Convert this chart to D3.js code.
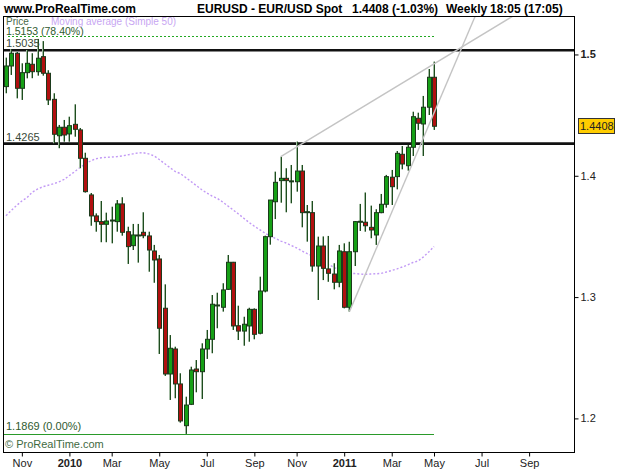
<!DOCTYPE html>
<html>
<head>
  <meta charset="utf-8">
  <title>EURUSD weekly</title>
  <script src="https://cdnjs.cloudflare.com/ajax/libs/d3/7.8.5/d3.min.js"></script>
  <style>
    body { margin: 0; background: #fff; }
    svg text { font-family: "Liberation Sans", Arial, sans-serif; }
    .hdr { font-size: 12px; font-weight: bold; fill: #000; }
    .axis text { font-size: 11px; fill: #222; }
    .axis line { stroke: #000; }
    .axis path { display: none; }
  </style>
</head>
<body>
<div id="chart"></div>
<script>

// weekly candles, first bar = week of 12 Oct 2009
var firstWeek = new Date(2009, 9, 12);

var opens = [
1.4735,1.4905,1.5010,1.4721,1.4850,1.4919,1.4858,1.4982,1.4845,1.4630,
1.4330,1.4400,1.4345,1.4424,1.4378,1.4144,1.3842,1.3669,1.3622,1.3600,
1.3627,1.3622,1.3768,1.3539,1.3424,1.3512,1.3534,1.3504,1.3380,1.3314,
1.2908,1.2366,1.2572,1.2284,1.1940,1.2116,1.2407,1.2385,1.2572,1.2652,
1.2935,1.2916,1.3064,1.3287,1.2764,1.2720,1.2762,1.2899,1.2702,1.3050,
1.3498,1.3786,1.3960,1.3979,1.3955,1.3951,1.4039,1.3700,1.3696,1.3256,
1.3421,1.3232,1.3190,1.3122,1.3374,1.2916,1.3374,1.3620,1.3617,1.3575,
1.3512,1.3696,1.3765,1.3988,1.3993,1.4177,1.4083,1.4235,1.4474,1.4427,
1.4565,1.4812];

var highs = [
1.4974,1.5043,1.5020,1.4927,1.5037,1.5010,1.5128,1.5110,1.4870,1.4680,
1.4419,1.4460,1.4487,1.4589,1.4394,1.4190,1.3858,1.3690,1.3792,1.3696,
1.3745,1.3800,1.3823,1.3580,1.3603,1.3603,1.3699,1.3539,1.3430,1.3347,
1.3105,1.2687,1.2591,1.2372,1.2179,1.2426,1.2481,1.2619,1.2729,1.3017,
1.3036,1.3114,1.3347,1.3290,1.2929,1.2838,1.2912,1.2907,1.3168,1.3506,
1.3800,1.4034,1.4157,1.4062,1.4089,1.4282,1.4089,1.3759,1.3792,1.3498,
1.3500,1.3504,1.3279,1.3430,1.3443,1.3456,1.3627,1.3768,1.3862,1.3754,
1.3724,1.3850,1.4007,1.4048,1.4204,1.4245,1.4254,1.4528,1.4520,1.4658,
1.4880,1.4941];

var lows = [
1.4680,1.4831,1.4638,1.4625,1.4803,1.4804,1.4825,1.4825,1.4583,1.4268,
1.4227,1.4281,1.4281,1.4322,1.4062,1.3861,1.3588,1.3539,1.3452,1.3452,
1.3443,1.3539,1.3506,1.3273,1.3388,1.3284,1.3485,1.3209,1.3118,1.2531,
1.2350,1.2152,1.2166,1.1965,1.1872,1.2110,1.2215,1.2160,1.2490,1.2537,
1.2743,1.2880,1.3059,1.2729,1.2646,1.2599,1.2632,1.2652,1.2693,1.3039,
1.3432,1.3643,1.3778,1.3699,1.3773,1.3869,1.3575,1.3457,1.3209,1.2976,
1.3140,1.3126,1.3064,1.3081,1.2907,1.2880,1.3256,1.3545,1.3539,1.3485,
1.3430,1.3691,1.3737,1.3759,1.3888,1.4053,1.4042,1.4163,1.4378,1.4163,
1.4501,1.4378];

var closes = [
1.4905,1.5010,1.4721,1.4850,1.4927,1.4858,1.4969,1.4845,1.4625,1.4342,
1.4400,1.4336,1.4413,1.4383,1.4144,1.3869,1.3669,1.3622,1.3600,1.3627,
1.3635,1.3768,1.3534,1.3416,1.3512,1.3504,1.3506,1.3388,1.3306,1.2743,
1.2366,1.2578,1.2284,1.1979,1.2110,1.2399,1.2385,1.2572,1.2652,1.2941,
1.2930,1.3059,1.3287,1.2762,1.2720,1.2776,1.2899,1.2693,1.3050,1.3498,
1.3800,1.3946,1.3979,1.3960,1.3958,1.4039,1.3696,1.3704,1.3256,1.3421,
1.3237,1.3196,1.3122,1.3380,1.2916,1.3374,1.3622,1.3625,1.3588,1.3553,
1.3696,1.3765,1.3993,1.3910,1.4185,1.4097,1.4235,1.4487,1.4433,1.4565,
1.4812,1.4408];

// Moving average (Simple 50), one value per bar
var ma50 = [
1.3671,1.3714,1.3755,1.3792,1.3821,1.3866,1.3891,1.3910,1.3922,1.3934,
1.3949,1.3970,1.4002,1.4034,1.4068,1.4097,1.4122,1.4140,1.4148,1.4152,
1.4154,1.4158,1.4163,1.4172,1.4180,1.4188,1.4190,1.4180,1.4165,1.4134,
1.4101,1.4068,1.4036,1.4018,1.3986,1.3953,1.3920,1.3887,1.3858,1.3833,
1.3813,1.3784,1.3751,1.3718,1.3685,1.3650,1.3615,1.3584,1.3556,1.3527,
1.3504,1.3483,1.3462,1.3446,1.3425,1.3405,1.3380,1.3359,1.3339,1.3318,
1.3294,1.3269,1.3246,1.3228,1.3211,1.3197,1.3194,1.3190,1.3188,1.3190,
1.3192,1.3195,1.3207,1.3219,1.3232,1.3248,1.3265,1.3285,1.3298,1.3331,
1.3372,1.3416];

var tickDates = ["2009-11-02","2010-01-04","2010-03-01","2010-05-03","2010-07-05","2010-09-06",
                 "2010-11-01","2011-01-03","2011-03-07","2011-05-02","2011-07-04","2011-09-05"];
var tickLabels = ["Nov","2010","Mar","May","Jul","Sep","Nov","2011","Mar","May","Jul","Sep"];
var priceTicks = [1.2, 1.3, 1.4, 1.5];

var supportLevels = [1.5035, 1.4265];
var fibHigh = 1.5153, fibLow = 1.1869;
var lastPrice = 1.4408;

// trend lines: two anchors each [date, price]
var trendA = [["2010-10-11", 1.4157], ["2011-05-02", 1.4922]];
var trendB = [["2011-01-10", 1.2880], ["2011-04-18", 1.4313]];

var W = 625, H = 469;
var pL = 3, pR = 574, pT = 16, pB = 452;
var parse = d3.timeParse("%Y-%m-%d");

var data = opens.map(function(o, i) {
  return {date: d3.timeMonday.offset(firstWeek, i), o: o, h: highs[i], l: lows[i], c: closes[i], ma: ma50[i]};
});

var x = d3.scaleTime()
  .domain([firstWeek, d3.timeMonday.offset(firstWeek, 81)])
  .range([6, 434]);
var y = d3.scaleLinear().domain([1.1723, 1.5317]).range([pB, pT]);

var svg = d3.select("#chart").append("svg")
  .attr("width", W).attr("height", H);

svg.append("defs").append("clipPath").attr("id", "plot")
  .append("rect").attr("x", pL).attr("y", pT).attr("width", pR - pL).attr("height", pB - pT);

// header
var hdr = [["www.ProRealTime.com", 4], ["EURUSD - EUR/USD Spot", 197], ["1.4408 (-1.03%)", 352],
           ["Weekly", 446], ["18:05 (17:05)", 490]];
svg.selectAll(".hdr").data(hdr).enter().append("text")
  .attr("class", "hdr").attr("x", d => d[1]).attr("y", 13).text(d => d[0]);

var plot = svg.append("g").attr("clip-path", "url(#plot)");

// fib levels
plot.append("line")
  .attr("x1", 8).attr("x2", x(data[81].date))
  .attr("y1", Math.round(y(fibHigh)) + 0.5).attr("y2", Math.round(y(fibHigh)) + 0.5)
  .attr("stroke", "#22a822").attr("stroke-dasharray", "2,2");
plot.append("line")
  .attr("x1", pL).attr("x2", x(data[81].date))
  .attr("y1", Math.round(y(fibLow)) + 0.5).attr("y2", Math.round(y(fibLow)) + 0.5)
  .attr("stroke", "#2a9a2a");

// moving average
plot.append("path").datum(data)
  .attr("fill", "none").attr("stroke", "#c29af5").attr("stroke-width", 1.4)
  .attr("stroke-dasharray", "2,2")
  .attr("d", d3.line().x(d => x(d.date)).y(d => y(d.ma)));

// horizontal levels
plot.selectAll(".lvl").data(supportLevels).enter().append("line")
  .attr("x1", pL).attr("x2", pR)
  .attr("y1", d => y(d)).attr("y2", d => y(d))
  .attr("stroke", "#111").attr("stroke-width", 2.6);

// candles
var cg = plot.selectAll(".candle").data(data).enter().append("g");
cg.append("line")
  .attr("x1", d => Math.round(x(d.date)) - 0.5).attr("x2", d => Math.round(x(d.date)) - 0.5)
  .attr("y1", d => y(d.h)).attr("y2", d => y(d.l))
  .attr("stroke", "#a3bba3");
cg.append("line")
  .attr("x1", d => Math.round(x(d.date)) + 0.5).attr("x2", d => Math.round(x(d.date)) + 0.5)
  .attr("y1", d => y(d.h)).attr("y2", d => y(d.l))
  .attr("stroke", "#1f4d1f");
cg.append("rect")
  .attr("x", d => Math.round(x(d.date)) - 1.5)
  .attr("y", d => y(Math.max(d.o, d.c)))
  .attr("width", 4)
  .attr("height", d => Math.max(1, Math.abs(y(d.o) - y(d.c))))
  .attr("fill", d => d.c >= d.o ? "#16a016" : "#b01010")
  .attr("stroke", "#1c3a1c").attr("stroke-width", 1);

// trend lines extended to the top of the frame
function trend(pts) {
  var x1 = x(parse(pts[0][0])), y1 = y(pts[0][1]);
  var x2 = x(parse(pts[1][0])), y2 = y(pts[1][1]);
  var k = (y2 - y1) / (x2 - x1);
  var xe = x1 + (pT - 2 - y1) / k;
  plot.append("line")
    .attr("x1", x1).attr("y1", y1).attr("x2", xe).attr("y2", pT - 2)
    .attr("stroke", "#c4c4c4").attr("stroke-width", 1.4);
}
trend(trendA);
trend(trendB);

// frame
svg.append("rect")
  .attr("x", pL + 0.5).attr("y", pT + 0.5)
  .attr("width", pR - pL).attr("height", pB - pT)
  .attr("fill", "none").attr("stroke", "#000");

// labels inside plot
svg.append("text").attr("x", 6).attr("y", 24.5).style("font-size", "10px").attr("fill", "#4a6a4a").text("Price");
svg.append("text").attr("x", 51).attr("y", 24.5).style("font-size", "10px").attr("fill", "#c8a6f2").text("Moving average (Simple 50)");
svg.append("text").attr("x", 6).attr("y", 35).style("font-size", "10.5px").attr("fill", "#2f5a2f").text("1.5153 (78.40%)");
svg.selectAll(".lvlLbl").data(supportLevels).enter().append("text")
  .attr("x", 6).attr("y", d => y(d) - 3).style("font-size", "11px").attr("fill", "#3a4a3a")
  .text(d => d3.format(".4f")(d));
svg.append("text").attr("x", 6).attr("y", y(fibLow) - 4).style("font-size", "11px").attr("fill", "#2f5a2f").text("1.1869 (0.00%)");
svg.append("text").attr("x", 5).attr("y", 448).style("font-size", "11px").attr("fill", "#3f6a3f").text("\u00a9 ProRealTime.com");

// right price axis
var ya = svg.append("g").attr("class", "axis")
  .attr("transform", "translate(" + (pR + 0.5) + ",0)")
  .call(d3.axisRight(y).tickValues(priceTicks).tickSize(4).tickPadding(2).tickFormat(d3.format(".1f")));
ya.selectAll("text").filter(d => d === 1.5).style("font-weight", "bold");

// bottom time axis
var xa = svg.append("g").attr("class", "axis")
  .attr("transform", "translate(0," + (pB + 0.5) + ")")
  .call(d3.axisBottom(x).tickValues(tickDates.map(parse)).tickSize(4).tickPadding(3)
    .tickFormat((d, i) => tickLabels[i]));
xa.selectAll("text").filter((d, i) => tickLabels[i].length === 4).style("font-weight", "bold");

// last price box
var ly = Math.round(y(lastPrice));
svg.append("rect").attr("x", 578.5).attr("y", ly - 7.5).attr("width", 36).attr("height", 15)
  .attr("fill", "#ffcc00").attr("stroke", "#333");
svg.append("text").attr("x", 580).attr("y", ly + 4).style("font-size", "11px").attr("fill", "#222").text("1.4408");

</script>
</body>
</html>
